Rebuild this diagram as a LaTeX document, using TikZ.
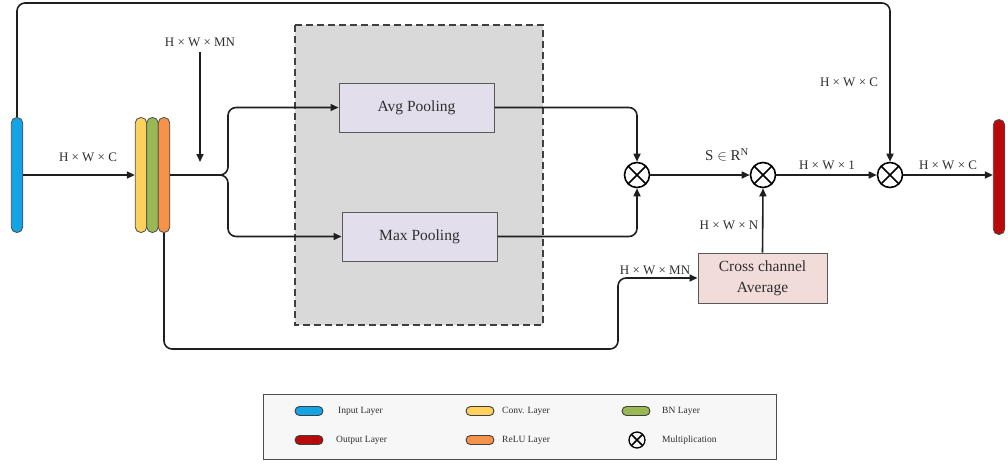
\documentclass[tikz,border=0pt]{standalone}
\usepackage{fontspec}
\setmainfont{Liberation Serif}
\usetikzlibrary{arrows.meta}
\definecolor{inblue}{HTML}{12A4E4}
\definecolor{convyel}{HTML}{FDD25C}
\definecolor{bngreen}{HTML}{98B954}
\definecolor{reluor}{HTML}{F6924A}
\definecolor{outred}{HTML}{B80A0A}
\definecolor{poolfill}{HTML}{E3DEEC}
\definecolor{ccafill}{HTML}{F2DCDA}
\definecolor{panel}{HTML}{D9D9D9}
\definecolor{txt}{HTML}{2E2E2E}
\tikzset{
  wire/.style={line width=1.6pt, black!88},
  arr/.style={wire, -{Triangle[length=8pt,width=7pt]}},
  layerbar/.style={rectangle, rounded corners=5.5pt, draw=black!70, line width=0.8pt,
    minimum width=11.5pt, minimum height=115pt, inner sep=0pt},
  opbox/.style={rectangle, draw=black!65, line width=1pt, inner sep=0pt, text=txt,
    font=\fontsize{15.5}{21}\selectfont, align=center},
  mult/.style={circle, draw=black, line width=1.6pt, minimum size=25pt, inner sep=0pt,
    path picture={\draw[line width=1.6pt]
      (path picture bounding box.north west) -- (path picture bounding box.south east)
      (path picture bounding box.north east) -- (path picture bounding box.south west);}},
  dimlbl/.style={text=txt, font=\fontsize{13}{15}\selectfont, inner sep=1pt},
  legpill/.style={rectangle, rounded corners=4.5pt, draw=black!75, line width=0.9pt,
    minimum width=28pt, minimum height=9pt, inner sep=0pt},
  legtxt/.style={anchor=west, text=txt, font=\fontsize{9.5}{10}\selectfont, inner sep=0pt},
}
\begin{document}
\begin{tikzpicture}[x=1pt, y=-1pt]
\useasboundingbox (0,0) rectangle (1008,464);

% dashed pooling panel
\draw[fill=panel, draw=black!75, line width=1.2pt, dash pattern=on 7pt off 4pt]
  (295,25) rectangle (543,325);

% layer bars
\node[layerbar, fill=inblue] (input) at (17,175) {};
\node[layerbar, fill=convyel] (conv) at (141,175) {};
\node[layerbar, fill=bngreen] (bn) at (152.5,175) {};
\node[layerbar, fill=reluor] (relu) at (164,175) {};
\node[layerbar, fill=outred] (output) at (999,177) {};

% operation boxes
\node[opbox, fill=poolfill, minimum width=155pt, minimum height=49pt] (avg) at (416.5,107.5) {Avg Pooling};
\node[opbox, fill=poolfill, minimum width=155pt, minimum height=49pt] (max) at (419.5,236.5) {Max Pooling};
\node[opbox, fill=ccafill, minimum width=129pt, minimum height=50pt] (cca) at (762.5,278) {Cross channel\\Average};

% multiplications
\node[mult] (m1) at (637,175) {};
\node[mult] (m2) at (763,175) {};
\node[mult] (m3) at (890,175) {};

% routing points
\coordinate (split) at (228,175);
\coordinate (topright) at (890,3);
\coordinate (low) at (618,349);
\coordinate (mnin) at (200,162);

% connectors
\draw[arr] (input) -- (conv);
\draw[arr, rounded corners=8pt] (relu.east) -- (split) |- (avg.west);
\draw[arr, rounded corners=8pt] (relu.east) -- (split) |- (max.west);
\draw[arr, rounded corners=8pt] (avg.east) -| (m1.north);
\draw[arr, rounded corners=8pt] (max.east) -| (m1.south);
\draw[arr] (m1) -- (m2);
\draw[arr] (m2) -- (m3);
\draw[arr] (m3.east) -- (m3.east -| output.west);
\draw[arr] (cca.north) -- (m2.south);
\draw[arr, rounded corners=8pt] (relu.south) |- (low) |- (cca.west);
\draw[arr, rounded corners=8pt] (input.north) |- (topright) -- (m3.north);

% dimension labels
\node[dimlbl] (lin) at (88,157) {H × W × C};
\node[dimlbl] (lmn) at (200,42) {H × W × MN};
\draw[arr] (lmn.south) ++(0,4) -- (mnin);
\node[dimlbl, font=\fontsize{15}{17}\selectfont] at (727,155) {S $\in$ R$^{\mathrm{N}}$};
\node[dimlbl] at (827,165) {H × W × 1};
\node[dimlbl] at (948,165) {H × W × C};
\node[dimlbl] at (849,82) {H × W × C};
\node[dimlbl] at (729,225) {H × W × N};
\node[dimlbl] at (655,270) {H × W × MN};

% legend
\draw[fill=white!97!black, draw=black!70, line width=1pt] (263,394) rectangle (776,459);
\node[legpill, fill=inblue] (k1) at (309,411) {};
\node[legtxt] at (338,411) {Input Layer};
\node[legpill, fill=outred] (k2) at (309,440) {};
\node[legtxt] at (336,440) {Output Layer};
\node[legpill, fill=convyel] (k3) at (480,411) {};
\node[legtxt] at (502,411) {Conv. Layer};
\node[legpill, fill=reluor] (k4) at (480,440) {};
\node[legtxt] at (502,440) {ReLU Layer};
\node[legpill, fill=bngreen] (k5) at (636,411) {};
\node[legtxt] at (662,411) {BN Layer};
\node[mult, minimum size=16pt, line width=1.3pt] (k6) at (637,440) {};
\node[legtxt] at (662,440) {Multiplication};
\end{tikzpicture}
\end{document}
